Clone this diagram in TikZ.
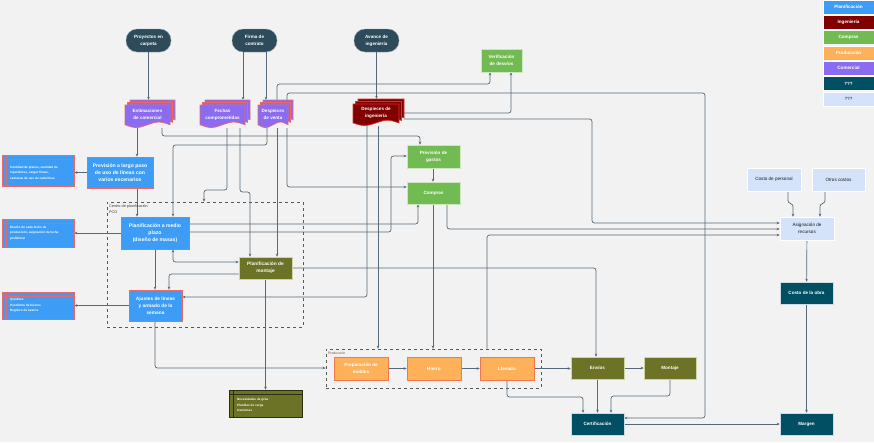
\documentclass[tikz,border=0pt]{standalone}
\usepackage{fontspec}
\setmainfont{Liberation Sans}
\usetikzlibrary{arrows.meta}
\definecolor{bgc}{HTML}{F2F2F2}
\definecolor{planb}{HTML}{3D9DF6}
\definecolor{redb}{HTML}{E8696B}
\definecolor{ingr}{HTML}{800000}
\definecolor{ingb}{HTML}{E0302A}
\definecolor{grn}{HTML}{72BB53}
\definecolor{grnb}{HTML}{CDE6C0}
\definecolor{org}{HTML}{FFB15A}
\definecolor{orgb}{HTML}{F07850}
\definecolor{purp}{HTML}{8B6CF0}
\definecolor{tealc}{HTML}{004F63}
\definecolor{termc}{HTML}{2D4B5B}
\definecolor{lblue}{HTML}{D4E3F9}
\definecolor{olivec}{HTML}{6C7226}
\definecolor{oliveb}{HTML}{D0D4A0}
\definecolor{linec}{HTML}{56697A}
\definecolor{txtd}{HTML}{1A1A1A}
\definecolor{prodlab}{HTML}{7A4A30}
\pgfdeclarelayer{bg}\pgfdeclarelayer{edges}\pgfsetlayers{bg,edges,main}

\newcommand\docshape[5]{%
 \pgfmathsetmacro\dsXa{#2}\pgfmathsetmacro\dsYa{#3}\pgfmathsetmacro\dsXb{#4}\pgfmathsetmacro\dsYb{#5}%
 \pgfmathsetmacro\dsW{\dsXb-\dsXa}\pgfmathsetmacro\dsD{0.28*(\dsYb-\dsYa)}%
 \pgfmathsetmacro\dsE{\dsYb-0.5*\dsD}%
 \pgfmathsetmacro\dsUp{\dsYb-1.1*\dsD}\pgfmathsetmacro\dsDn{\dsYb+0.1*\dsD}%
 \pgfmathsetmacro\dsQa{\dsXb-0.25*\dsW}\pgfmathsetmacro\dsQm{\dsXa+0.5*\dsW}\pgfmathsetmacro\dsQb{\dsXa+0.25*\dsW}%
 \path[#1] (\dsXa,\dsYa) -- (\dsXb,\dsYa) -- (\dsXb,\dsE) .. controls (\dsQa,\dsUp) .. (\dsQm,\dsE) .. controls (\dsQb,\dsDn) .. (\dsXa,\dsE) -- cycle;}

\newcommand\docstack[8]{%
 \docshape{#6}{#2+5}{#3}{#4}{#5-5}%
 \docshape{#6}{#2+2.5}{#3+2.5}{#4-2.5}{#5-2.5}%
 \docshape{#6}{#2}{#3+5}{#4-5}{#5}%
 \pgfmathsetmacro\dsCx{(#2+#4)/2}\pgfmathsetmacro\dsCy{(#3+#5)/2}%
 \pgfmathsetmacro\dsWd{#4-(#2)}\pgfmathsetmacro\dsHt{#5-(#3)}%
 \node[name=#1, minimum width=\dsWd pt, minimum height=\dsHt pt, inner sep=0pt] at (\dsCx,\dsCy) {};%
 \pgfmathsetmacro\dsTx{(#2+#4-5)/2}\pgfmathsetmacro\dsTy{(#3+5+#5)/2-2}%
 \node[name=#1-t, #7] at (\dsTx,\dsTy) {#8};}

\newcommand\storage[9]{%
 \pgfmathsetmacro\stCx{(#2+#4)/2}\pgfmathsetmacro\stCy{(#3+#5)/2}%
 \pgfmathsetmacro\stW{#4-(#2)}\pgfmathsetmacro\stH{#5-(#3)}%
 \node[name=#1, fill=#6, draw=#7, line width=0.7pt, minimum width=\stW pt, minimum height=\stH pt, inner sep=0pt] at (\stCx,\stCy) {};%
 \draw[#7, line width=0.7pt] ({#2+4},#3) -- ({#2+4},#5) (#2,{#3+4}) -- (#4,{#3+4});%
 \node[name=#1-t, anchor=west, align=left, text=white, font=\bfseries\fontsize{3.1}{5.4}\selectfont, inner sep=0pt] at ({#2+8},{(#3+#5)/2+#8}) {#9};}

\begin{document}
\begin{tikzpicture}[x=1pt,y=-1pt,
 lbl/.style={font=\bfseries\fontsize{4.6}{6.8}\selectfont, align=center},
 sz/.style 2 args={minimum width=#1pt, minimum height=#2pt, inner sep=0.5pt},
 plan/.style={rectangle, lbl, fill=planb, draw=redb, line width=0.8pt, text=white, font=\bfseries\fontsize{5.1}{7.2}\selectfont},
 termbox/.style={rectangle, rounded corners=11pt, lbl, fill=termc, draw=termc!50!white, line width=0.4pt, text=white},
 grnbox/.style={rectangle, lbl, fill=grn, draw=grnb, line width=0.6pt, text=white},
 orgbox/.style={rectangle, lbl, fill=org, draw=orgb, line width=0.7pt, text=white},
 olbox/.style={rectangle, lbl, fill=olivec, draw=oliveb, line width=0.6pt, text=white},
 tealbox/.style={rectangle, lbl, fill=tealc, draw=white!80!tealc, line width=0.5pt, text=white},
 lbbox/.style={rectangle, lbl, fill=lblue, draw=white, line width=0.6pt, text=txtd, font=\fontsize{4.6}{6.8}\selectfont},
 legbox/.style={rectangle, lbl, minimum width=51pt, inner sep=0pt, draw=white, line width=0.6pt, text=white},
 comsheet/.style={fill=purp, draw=redb, line width=0.7pt},
 ingsheet/.style={fill=ingr, draw=ingb, line width=0.7pt},
 doctext/.style={lbl, text=white, inner sep=0pt},
 container/.style={draw=black!65, dashed, line width=0.7pt, inner sep=0pt},
 conn/.style={draw=linec, line width=0.7pt, rounded corners=2.5pt, -{Stealth[length=3pt,width=2.6pt]}},
 conn2/.style={conn, {Stealth[length=3pt,width=2.6pt]}-{Stealth[length=3pt,width=2.6pt]}},
]
\useasboundingbox (0,0) rectangle (874,442);
\begin{pgfonlayer}{bg}\fill[bgc] (0,0) rectangle (874,442);\end{pgfonlayer}

% legend
\node[legbox, fill=planb, minimum height=14pt] (lg1) at (848.5,7) {Planificación};
\node[legbox, fill=ingr, minimum height=14pt] (lg2) at (848.5,22) {Ingeniería};
\node[legbox, fill=grn, minimum height=14pt] (lg3) at (848.5,37.5) {Compras};
\node[legbox, fill=org, minimum height=14pt] (lg4) at (848.5,53) {Producción};
\node[legbox, fill=purp, minimum height=14pt] (lg5) at (848.5,68) {Comercial};
\node[legbox, fill=tealc, minimum height=14pt] (lg6) at (848.5,83.5) {???};
\node[legbox, fill=lblue, text=txtd, minimum height=14pt, font=\fontsize{4.6}{6.8}\selectfont] (lg7) at (848.5,99) {???};

% containers
\begin{pgfonlayer}{edges}
\node[container, minimum width=196pt, minimum height=125pt] (pco) at (205,264.5) {};
\node[container, minimum width=215pt, minimum height=39pt] (prodc) at (433.5,368.5) {};
\end{pgfonlayer}
\node[anchor=north west, align=left, inner sep=0pt, text=black!75, font=\fontsize{3.8}{6}\selectfont] (pcolab) at (109,204.5) {Centro de planificación\\PCO};
\node[anchor=north west, inner sep=0pt, text=prodlab, font=\fontsize{3.4}{5}\selectfont] (prodlabn) at (328,351.5) {Producción};

% terminals
\node[termbox, sz={45}{23}] (proy) at (148.5,40.5) {Proyectos en\\carpeta};
\node[termbox, sz={45}{23}] (firma) at (254.5,40.5) {Firma de\\contrato};
\node[termbox, sz={45}{23}] (avance) at (376.5,40.5) {Avance de\\ingeniería};

% document stacks
\docstack{est}{125}{100}{175}{128}{comsheet}{doctext}{Estimaciones\\de comercial}
\docstack{fechas}{200}{100}{250}{128}{comsheet}{doctext}{Fechas\\comprometidas}
\docstack{dvta}{258}{100}{293}{128}{comsheet}{doctext}{Despieces\\de venta}
\docstack{ding}{353}{99}{404}{126}{ingsheet}{doctext}{Despieces de\\ingeniería}

% main boxes
\node[grnbox, sz={41}{23}] (verif) at (501.5,60.5) {Verificación\\de desvíos};
\node[plan, sz={66}{31}] (prev) at (120,172.5) {Previsión a largo paso\\de uso de líneas con\\varios escenarios};
\node[plan, sz={68}{32}] (pmed) at (155,233) {Planificación a medio\\plazo\\(diseño de masas)};
\node[olbox, sz={53}{22}, font=\bfseries\fontsize{4.8}{7}\selectfont] (pmont) at (265.5,268) {Planificación de\\montaje};
\node[plan, sz={53}{31}, font=\bfseries\fontsize{4.8}{7}\selectfont] (ajus) at (155.5,305.5) {Ajustes de líneas\\y armado de la\\semana};
\node[grnbox, sz={53}{23}] (pgastos) at (433.5,156.5) {Previsión de\\gastos};
\node[grnbox, sz={53}{22}] (compras) at (433.5,193) {Compras};
\node[lbbox, sz={54}{23}] (cper) at (774,179.5) {Costo de personal};
\node[lbbox, sz={53}{23}] (otros) at (838.5,179.5) {Otros costos};
\node[lbbox, sz={54}{23}] (asig) at (807,228.5) {Asignación de\\recursos};
\node[tealbox, sz={53}{22}] (costo) at (806.5,293) {Costo de la obra};
\node[tealbox, sz={53}{22}] (margen) at (806.5,424) {Margen};
\node[tealbox, sz={53}{22}] (cert) at (597.5,424) {Certificación};
\node[olbox, sz={53}{22}] (envios) at (597.5,368) {Envíos};
\node[olbox, sz={52}{22}] (montaje) at (670,368) {Montaje};
\node[orgbox, sz={54}{23}] (prep) at (361,368.5) {Preparación de\\moldes};
\node[orgbox, sz={54}{23}] (hierro) at (434,368.5) {Hierro};
\node[orgbox, sz={54}{23}] (llen) at (507,368.5) {Llenado};

% storage boxes
\storage{st1}{2}{155}{74}{186}{planb}{redb}{2}{Cantidad de planos, cantidad de\\repetidores, cargar líneas,\\semanas de uso de cada línea}
\storage{st2}{2}{219}{74}{247}{planb}{redb}{0}{Diseño de cada lecho de\\producción, asignación de fecha\\preliminar}
\storage{st3}{2}{292}{74}{319}{planb}{redb}{0}{Quiebres\\Pendiente de hierros\\Registro de avance}
\storage{neces}{229}{390}{302}{417}{olivec}{black!60!olivec}{1.5}{Necesidades de grúa\\Planillas de carga\\Camiones}

% connectors
\begin{pgfonlayer}{edges}
\draw[conn] (proy.south) -- (proy.south |- est.north);
\draw[conn] (firma.south -| 243,0) -- (fechas.north -| 243,0);
\draw[conn] (firma.south -| 266,0) -- (dvta.north -| 266,0);
\draw[conn] (avance.south) -- (avance.south |- ding.north);
\draw[conn] (est.south -| 137,0) -- (prev.north -| 137,0);
\draw[conn] (est.south -| 162,0) -- (162,136) -- (420,136) -- (pgastos.north -| 420,0);
\draw[conn] (dvta.north -| 277,0) -- (277,84) -- (490,84) -- (verif.south -| 490,0);
\draw[conn] (dvta.south -| 277,0) -- (pmont.north -| 277,0);
\draw[conn] (dvta.north -| 287,0) -- (287,93) -- (705,93) -- (705,418) -- (cert.east |- 0,418);
\draw[conn] (dvta.south -| 287,0) -- (287,187) -- (compras.west |- 0,187);
\draw[conn] (dvta.south -| 267,0) -- (267,145) -- (173,145) -- (pmed.north -| 173,0);
\draw[conn] (fechas.south -| 227,0) -- (227,190) -- (204,190) -- (pco.north -| 204,0);
\draw[conn] (fechas.south -| 240,0) -- (240,192) -- (250,192) -- (pmont.north -| 250,0);
\draw[conn] (ding.east |- 0,113) -- (511,113) -- (verif.south -| 511,0);
\draw[conn] (ding.east |- 0,119) -- (592,119) -- (592,223) -- (asig.west |- 0,223);
\draw[conn] (ding.south -| 367,0) -- (367,297) -- (ajus.east |- 0,297);
\draw[conn] (ding.south -| 378,0) -- (prodc.north -| 378,0);
\draw[conn] (pgastos.south -| 433,0) -- (compras.north -| 433,0);
\draw[conn] (compras.south -| 433,0) -- (prodc.north -| 433,0);
\draw[conn] (compras.south -| 447,0) -- (447,229) -- (asig.west |- 0,229);
\draw[conn] (prodc.north -| 487,0) -- (487,235) -- (asig.west |- 0,235);
\draw[conn] (pmed.east |- 0,224) -- (418,224) -- (compras.south -| 418,0);
\draw[conn] (pmed.east |- 0,232) -- (391,232) -- (391,156) -- (pgastos.west |- 0,156);
\draw[conn] (prev.west) -- (st1.east |- prev.west);
\draw[conn] (pmed.west) -- (st2.east |- pmed.west);
\draw[conn] (ajus.west) -- (st3.east |- ajus.west);
\draw[conn] (prev.south -| 137,0) -- (pmed.north -| 137,0);
\draw[conn] (pmed.south -| 155,0) -- (ajus.north -| 155,0);
\draw[conn2] (pmed.south -| 173,0) -- (173,262) -- (pmont.west |- 0,262);
\draw[conn] (pmont.west |- 0,274) -- (169,274) -- (ajus.north -| 169,0);
\draw[conn] (pmont.south) -- (neces.north -| pmont.south);
\draw[conn] (pmont.east) -- (596,268) -- (envios.north -| 596,0);
\draw[conn] (ajus.south -| 155,0) -- (155,368) -- (prodc.west |- 0,368);
\draw[conn] (prep) -- (hierro);
\draw[conn] (hierro) -- (llen);
\draw[conn] (llen.east) -- (envios.west |- llen.east);
\draw[conn] (llen.south) -- (507,397) -- (583,397) -- (cert.north -| 583,0);
\draw[conn] (envios.south) -- (cert.north);
\draw[conn] (envios) -- (montaje);
\draw[conn] (montaje.south) -- (670,396) -- (611,396) -- (cert.north -| 611,0);
\draw[conn] (cert) -- (margen);
\draw[conn] (costo) -- (margen);
\draw[conn] (asig) -- (costo);
\draw[conn] (cper.south -| 788,0) -- (788,203) -- (793,204) -- (asig.north -| 793,0);
\draw[conn] (otros.south -| 825,0) -- (825,203) -- (820,204) -- (asig.north -| 820,0);
\end{pgfonlayer}
\end{tikzpicture}
\end{document}
